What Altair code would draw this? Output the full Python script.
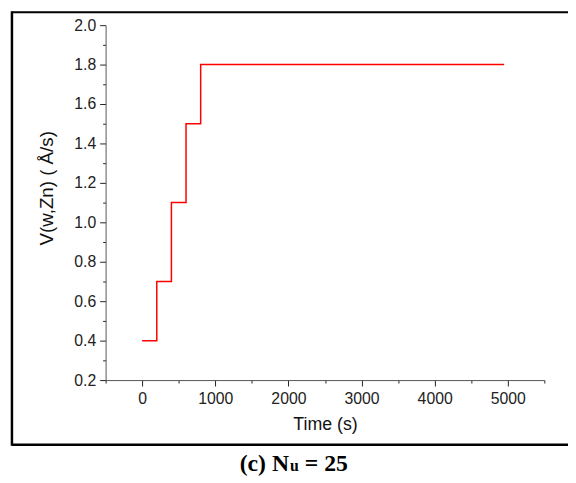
import altair as alt
import pandas as pd

# Step data
time_s = [0, 200, 400, 600, 800, 4950]
velocity = [0.4, 0.7, 1.1, 1.5, 1.8, 1.8]

x_ticks = list(range(-500, 5501, 500))
y_ticks = [round(0.2 + 0.1 * i, 1) for i in range(19)]

df = pd.DataFrame({"t": time_s, "v": velocity})

W, H = 445, 360

line = alt.Chart(df).mark_line(color="#ff0000", strokeWidth=1.5, interpolate="step-after").encode(
    x=alt.X("t:Q", scale=alt.Scale(domain=[-500, 5500], nice=False, zero=False),
            axis=alt.Axis(values=x_ticks, title="Time (s)",
                          labelExpr="datum.value % 1000 === 0 ? datum.label : ''",
                          format="d",
                          tickSize={"condition": {"test": "datum.value % 1000 === 0", "value": 6}, "value": 3},
                          grid=False, domainColor="#555", tickColor="#222",
                          labelFont="Liberation Sans", labelFontSize=16, labelColor="#222",
                          labelPadding=5, titleFont="Liberation Sans", titleFontSize=18,
                          titleFontWeight="normal", titleColor="#111", titlePadding=9)),
    y=alt.Y("v:Q", scale=alt.Scale(domain=[0.2, 2.0], nice=False, zero=False),
            axis=alt.Axis(values=y_ticks, title="V(w,Zn) ( Å/s)", format=".1f",
                          labelExpr="round(datum.value * 10) % 2 === 0 ? datum.label : ''",
                          tickSize={"condition": {"test": "round(datum.value * 10) % 2 === 0", "value": 6}, "value": 3},
                          grid=False, domainColor="#555", tickColor="#222",
                          labelFont="Liberation Sans", labelFontSize=16, labelColor="#222",
                          labelPadding=4, titleFont="Liberation Sans", titleFontSize=19,
                          titleFontWeight="normal", titleColor="#111",
                          titleX=-50, titleY=165, titleAngle=270, titleAlign="center",
                          titleBaseline="bottom")),
)

one = alt.Data(values=[{"a": 1}])

frame_top = alt.Chart(one).mark_rule(color="black", strokeWidth=2).encode(
    x=alt.value(-95), x2=alt.value(469), y=alt.value(-13))
frame_bottom = alt.Chart(one).mark_rule(color="black", strokeWidth=2.5).encode(
    x=alt.value(-95), x2=alt.value(469), y=alt.value(425.5))
frame_left = alt.Chart(one).mark_rule(color="black", strokeWidth=2.5).encode(
    x=alt.value(-95), y=alt.value(-14), y2=alt.value(426.5))

cap1 = alt.Chart(one).mark_text(text="(c) N", font="Liberation Serif", fontWeight="bold",
                                fontSize=24, align="right", baseline="alphabetic", color="black").encode(
    x=alt.value(186), y=alt.value(452))
cap2 = alt.Chart(one).mark_text(text="u", font="Liberation Serif", fontWeight="bold",
                                fontSize=16, align="left", baseline="alphabetic", color="black").encode(
    x=alt.value(187), y=alt.value(452))
cap3 = alt.Chart(one).mark_text(text="= 25", font="Liberation Serif", fontWeight="bold",
                                fontSize=24, align="left", baseline="alphabetic", color="black").encode(
    x=alt.value(202), y=alt.value(452))

chart = alt.layer(line, frame_top, frame_bottom, frame_left, cap1, cap2, cap3).properties(
    width=W, height=H,
    autosize="none",
    padding={"left": 99, "top": 14, "right": 24, "bottom": 101},
).configure(background="white").configure_view(stroke="transparent", strokeWidth=0)

chart.save("out.html", embed_options={"renderer": "svg", "actions": False})
